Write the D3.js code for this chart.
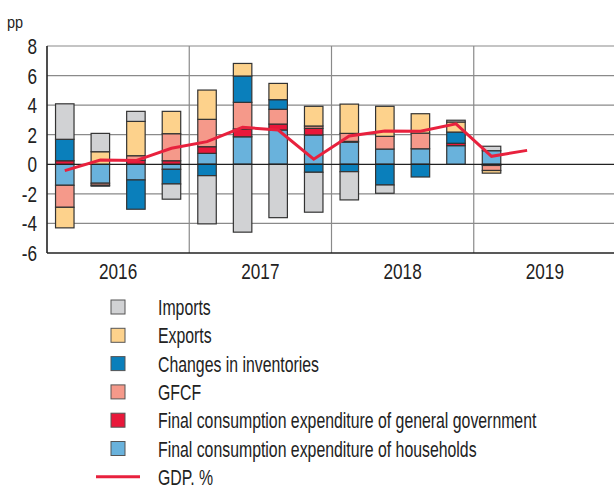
<!DOCTYPE html>
<html lang="en">
	<head>
		<meta charset="utf-8">
		<title>GDP contributions</title>
		<script src="https://d3js.org/d3.v7.min.js"></script>
		<style>
			body { margin: 0; background: #fff; }
			text { font-family: "Liberation Sans Narrow", "Liberation Sans", Arial, sans-serif; fill: #222; }
		</style>
	</head>
	<body>
		<script>
			//Data (pp)
			var years = ["2016", "2017", "2018", "2019"];
			var quarters = ["2016Q1","2016Q2","2016Q3","2016Q4","2017Q1","2017Q2","2017Q3","2017Q4",
			                "2018Q1","2018Q2","2018Q3","2018Q4","2019Q1","2019Q2","2019Q3","2019Q4"];
			var households  = [-1.42, -1.28, -1.06, -0.34, 0.74, 1.86, 2.32, 1.98, 1.50, 1.03, 1.05, 1.26, 0.92];
			var government  = [0.24, 0, 0.27, 0.24, 0.45, 0.53, 0.40, 0.45, 0.05, 0, 0, 0.16, -0.08];
			var gfcf        = [-1.49, -0.14, 0.31, 1.83, 1.85, 1.80, 1.00, 0.16, 0.54, 0.86, 1.06, 0, -0.34];
			var inventories = [1.45, -0.06, -1.98, -0.99, -0.77, 1.78, 0.65, -0.54, -0.50, -1.40, -0.86, 0.76, 0];
			var exportsPP   = [-1.39, 0.85, 2.32, 1.51, 1.98, 0.85, 1.10, 1.33, 1.98, 2.03, 1.31, 0.68, -0.18];
			var importsPP   = [2.40, 1.24, 0.68, -1.03, -3.26, -4.59, -3.61, -2.70, -1.91, -0.56, 0, 0.12, 0.30];
			var gdp         = [-0.43, 0.29, 0.25, 1.08, 1.53, 2.50, 2.32, 0.34, 1.92, 2.25, 2.23, 2.74, 0.54, 0.94];
			var yTicks = [-6, -4, -2, 0, 2, 4, 6, 8];

			// stacking order from zero outward (bottom of legend first)
			var series = [
				{key: "hh",  name: "Final consumption expenditure of households",          values: households,  color: "#69b2dc"},
				{key: "gov", name: "Final consumption expenditure of general government",  values: government,  color: "#e8183a"},
				{key: "gf",  name: "GFCF",                                                  values: gfcf,        color: "#f5998a"},
				{key: "inv", name: "Changes in inventories",                                values: inventories, color: "#0a7fbb"},
				{key: "ex",  name: "Exports",                                               values: exportsPP,   color: "#fdd28c"},
				{key: "im",  name: "Imports",                                               values: importsPP,   color: "#d1d2d4"}
			];

			var w = 614, h = 485;
			var plotLeft = 47, plotRight = 616, plotTop = 46, plotBottom = 253;

			var rows = households.map(function(d, i) {
				var r = {q: quarters[i]};
				series.forEach(function(s) { r[s.key] = s.values[i]; });
				return r;
			});

			var xScale = d3.scaleBand()
				.domain(quarters)
				.range([plotLeft, plotRight])
				.paddingInner(0.48)
				.paddingOuter(0.24);

			var yearScale = d3.scaleBand()
				.domain(years)
				.range([plotLeft, plotRight]);

			var yScale = d3.scaleLinear()
				.domain([-6, 8])
				.range([plotBottom, plotTop]);

			var svg = d3.select("body").append("svg")
				.attr("width", w)
				.attr("height", h);

			// helper for the narrow text (the original face is condensed)
			function label(g, x, y, txt, size, anchor, squeeze) {
				return g.append("text")
					.attr("transform", "translate(" + x + "," + y + ") scale(" + squeeze + ",1)")
					.attr("text-anchor", anchor)
					.attr("font-size", size)
					.text(txt);
			}

			//grid lines
			svg.append("g").selectAll("line")
				.data(yTicks.filter(function(d) { return d > -6 && d !== 0; }))
				.enter().append("line")
				.attr("x1", plotLeft).attr("x2", plotRight)
				.attr("y1", function(d) { return yScale(d); })
				.attr("y2", function(d) { return yScale(d); })
				.attr("stroke", "#8a8a8a")
				.attr("stroke-width", 1.2);

			//year separators
			svg.append("g").selectAll("line")
				.data(years.slice(1))
				.enter().append("line")
				.attr("x1", function(d) { return yearScale(d); })
				.attr("x2", function(d) { return yearScale(d); })
				.attr("y1", plotTop).attr("y2", plotBottom)
				.attr("stroke", "#8a8a8a")
				.attr("stroke-width", 1.2);

			//bars
			var stack = d3.stack()
				.keys(series.map(function(s) { return s.key; }))
				.offset(d3.stackOffsetDiverging);

			svg.append("g").selectAll("g")
				.data(stack(rows))
				.enter().append("g")
				.attr("fill", function(d, i) { return series[i].color; })
				.selectAll("rect")
				.data(function(d) { return d.filter(function(p) { return p[1] - p[0] !== 0; }); })
				.enter().append("rect")
				.attr("x", function(d) { return xScale(d.data.q); })
				.attr("width", xScale.bandwidth())
				.attr("y", function(d) { return yScale(d[1]); })
				.attr("height", function(d) { return yScale(d[0]) - yScale(d[1]); })
				.attr("stroke", "#333")
				.attr("stroke-width", 1.2);

			//zero line and axes
			svg.append("line")
				.attr("x1", plotLeft).attr("x2", plotRight)
				.attr("y1", yScale(0)).attr("y2", yScale(0))
				.attr("stroke", "#222").attr("stroke-width", 1.3);
			svg.append("line")
				.attr("x1", plotLeft).attr("x2", plotRight)
				.attr("y1", plotBottom).attr("y2", plotBottom)
				.attr("stroke", "#222").attr("stroke-width", 1.6);
			svg.append("line")
				.attr("x1", plotLeft).attr("x2", plotLeft)
				.attr("y1", plotTop).attr("y2", plotBottom)
				.attr("stroke", "#222").attr("stroke-width", 1.6);

			//GDP line
			var line = d3.line()
				.x(function(d, i) { return xScale(quarters[i]) + xScale.bandwidth() / 2; })
				.y(function(d) { return yScale(d); });

			svg.append("path")
				.datum(gdp)
				.attr("d", line)
				.attr("fill", "none")
				.attr("stroke", "#e8213d")
				.attr("stroke-width", 3);

			//tick labels
			var tg = svg.append("g");
			yTicks.forEach(function(t) { label(tg, 37, yScale(t) + 8, t, 22, "end", 0.78); });
			label(tg, 7, 28, "pp", 17, "start", 0.85);
			years.forEach(function(y) {
				label(tg, yearScale(y) + yearScale.bandwidth() / 2, 279, y, 22, "middle", 0.78);
			});

			//legend
			var legendItems = series.slice().reverse();
			var lg = svg.append("g");
			legendItems.forEach(function(s, i) {
				var y = 307 + i * 28.3;
				lg.append("rect")
					.attr("x", 111).attr("y", y - 7)
					.attr("width", 14).attr("height", 14)
					.attr("fill", s.color)
					.attr("stroke", "#555")
					.attr("stroke-width", 1);
				label(lg, 158, y + 8, s.name, 22, "start", 0.72);
			});
			var gy = 307 + 6 * 28.3;
			lg.append("line")
				.attr("x1", 96).attr("x2", 140)
				.attr("y1", gy).attr("y2", gy)
				.attr("stroke", "#e8213d").attr("stroke-width", 3);
			label(lg, 158, gy + 8, "GDP, %", 22, "start", 0.72);
		</script>
	</body>
</html>
